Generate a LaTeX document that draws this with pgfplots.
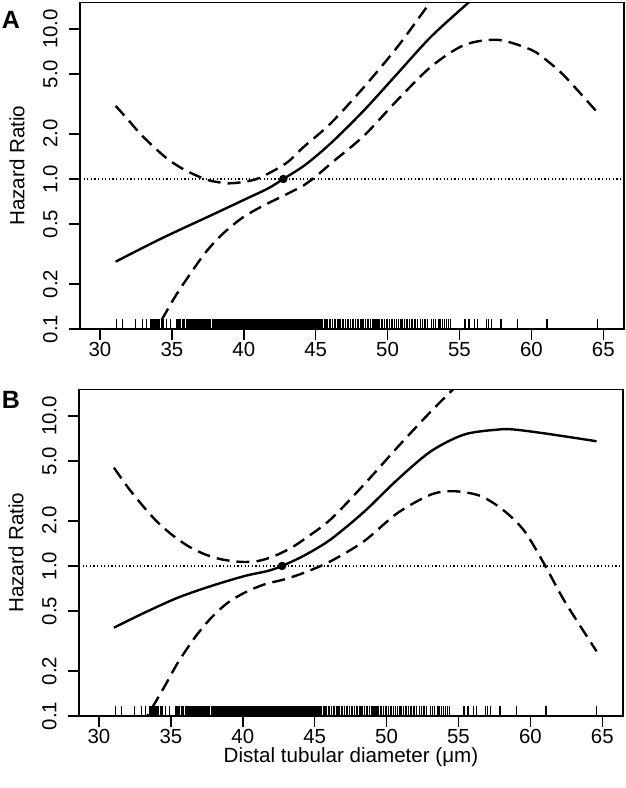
\documentclass[border=0pt]{standalone}
\usepackage{fontspec}
\setmainfont{Liberation Sans}
\usepackage{pgfplots}
\usepackage{pgfplotstable}
\pgfplotsset{compat=1.18}

\pgfplotstableread{
x y
31.13 0.108
31.54 0.108
32.45 0.108
32.93 0.108
33.22 0.108
33.53 0.108
33.62 0.108
33.70 0.108
33.78 0.108
33.85 0.108
33.93 0.108
34.00 0.108
34.08 0.108
34.15 0.108
34.25 0.108
34.38 0.108
34.62 0.108
34.91 0.108
35.35 0.108
35.45 0.108
35.55 0.108
35.62 0.108
35.72 0.108
35.80 0.108
35.90 0.108
36.00 0.108
36.08 0.108
36.15 0.108
36.25 0.108
36.32 0.108
36.40 0.108
36.50 0.108
36.60 0.108
36.68 0.108
36.75 0.108
36.85 0.108
36.95 0.108
37.05 0.108
37.12 0.108
37.20 0.108
37.30 0.108
37.38 0.108
37.45 0.108
37.55 0.108
37.62 0.108
37.70 0.108
37.80 0.108
37.88 0.108
37.95 0.108
38.05 0.108
38.12 0.108
38.20 0.108
38.28 0.108
38.35 0.108
38.42 0.108
38.50 0.108
38.58 0.108
38.66 0.108
38.74 0.108
38.82 0.108
38.90 0.108
38.98 0.108
39.06 0.108
39.14 0.108
39.22 0.108
39.30 0.108
39.38 0.108
39.46 0.108
39.54 0.108
39.62 0.108
39.70 0.108
39.78 0.108
39.86 0.108
39.94 0.108
40.02 0.108
40.10 0.108
40.18 0.108
40.26 0.108
40.34 0.108
40.42 0.108
40.50 0.108
40.58 0.108
40.66 0.108
40.74 0.108
40.82 0.108
40.90 0.108
40.98 0.108
41.06 0.108
41.14 0.108
41.22 0.108
41.30 0.108
41.38 0.108
41.46 0.108
41.54 0.108
41.62 0.108
41.70 0.108
41.78 0.108
41.86 0.108
41.94 0.108
42.02 0.108
42.10 0.108
42.18 0.108
42.26 0.108
42.34 0.108
42.42 0.108
42.50 0.108
42.58 0.108
42.66 0.108
42.74 0.108
42.82 0.108
42.90 0.108
42.98 0.108
43.06 0.108
43.14 0.108
43.22 0.108
43.30 0.108
43.38 0.108
43.46 0.108
43.54 0.108
43.62 0.108
43.70 0.108
43.78 0.108
43.86 0.108
43.94 0.108
44.02 0.108
44.10 0.108
44.18 0.108
44.26 0.108
44.34 0.108
44.42 0.108
44.50 0.108
44.58 0.108
44.66 0.108
44.74 0.108
44.82 0.108
44.90 0.108
44.98 0.108
45.06 0.108
45.14 0.108
45.22 0.108
45.30 0.108
45.38 0.108
45.46 0.108
45.60 0.108
45.72 0.108
45.80 0.108
45.95 0.108
46.05 0.108
46.15 0.108
46.30 0.108
46.38 0.108
46.50 0.108
46.62 0.108
46.70 0.108
46.85 0.108
46.95 0.108
47.05 0.108
47.20 0.108
47.30 0.108
47.40 0.108
47.55 0.108
47.65 0.108
47.75 0.108
47.90 0.108
48.00 0.108
48.10 0.108
48.22 0.108
48.35 0.108
48.45 0.108
48.60 0.108
48.70 0.108
48.80 0.108
48.95 0.108
49.05 0.108
49.20 0.108
49.30 0.108
49.40 0.108
49.55 0.108
49.65 0.108
49.80 0.108
49.90 0.108
50.00 0.108
50.12 0.108
50.25 0.108
50.35 0.108
50.50 0.108
50.60 0.108
50.75 0.108
50.90 0.108
51.00 0.108
51.15 0.108
51.30 0.108
51.40 0.108
51.55 0.108
51.70 0.108
51.85 0.108
51.95 0.108
52.10 0.108
52.30 0.108
52.45 0.108
52.60 0.108
52.80 0.108
53.05 0.108
53.20 0.108
53.35 0.108
53.55 0.108
53.65 0.108
53.80 0.108
53.95 0.108
54.10 0.108
54.25 0.108
54.40 0.108
55.38 0.108
55.66 0.108
56.03 0.108
56.27 0.108
56.87 0.108
56.99 0.108
57.23 0.108
57.88 0.108
59.04 0.108
61.08 0.108
64.62 0.108
}\rugdata

\pgfplotsset{
  hrstyle/.style={
    scale only axis, width=272pt, height=163.25pt,
    xmin=28.61, xmax=66.44, ymin=0.1, ymax=15,
    xtick={30,35,40,45,50,55,60,65},
    ytick={0.1,0.2,0.5,1,2,5,10},
    yticklabels={0.1,0.2,0.5,1.0,2.0,5.0,10.0},
    yminorticks=false,
    tick align=outside, major tick length=5.5pt,
    xtick pos=lower, ytick pos=left,
    axis line style={line width=0.75pt},
    every tick/.style={line width=0.75pt, black},
    tick label style={font=\fontsize{10.2}{12}\selectfont},
    xticklabel style={inner sep=0pt, anchor=north, yshift=-1pt},
    yticklabel style={rotate=90, anchor=south, inner sep=0pt, yshift=5.5pt},
    label style={font=\fontsize{10.3}{12}\selectfont},
    ylabel={Hazard Ratio},
    ylabel style={at={(axis description cs:0,0.5)}, anchor=center, yshift=31.5pt},
  },
  solidc/.style={line width=1.2pt, black, smooth},
  dashc/.style={line width=1.2pt, black, smooth, dash pattern=on 6.5pt off 3.5pt},
  refl/.style={line width=0.55pt, black, dash pattern=on 0.6pt off 1.2pt},
  rugst/.style={only marks, mark=|, mark size=2.5pt, mark options={line width=0.6pt, black}},
}

\begin{document}
\begin{tikzpicture}
% Panel A
\begin{axis}[ymode=log, hrstyle, /pgf/number format/assume math mode=true, at={(0,0)}, anchor=south west]
\addplot[refl] coordinates {(28.61,1) (66.44,1)};
\addplot[rugst] table[x=x, y=y] {\rugdata};
\addplot[solidc] coordinates {
(31.09,0.281) (34.29,0.402) (37.77,0.575) (40.08,0.731) (41.71,0.867) (42.75,1.0) (44.26,1.239)
(46.05,1.73) (48.38,2.88) (50.70,5.06) (53.03,8.89) (55.70,15.2) (57.0,19.5)};
\addplot[dashc] coordinates {
(31.09,3.07) (31.97,2.47) (32.78,2.01) (33.71,1.644) (34.64,1.374) (35.56,1.197) (36.61,1.064)
(37.65,0.975) (38.92,0.935) (40.08,0.959) (41.01,1.009) (42.17,1.148) (43.10,1.306) (44.14,1.626)
(46.05,2.35) (48.38,4.12) (50.70,7.62) (52.91,14.8) (54.0,20.4)};
\addplot[dashc] coordinates {
(33.6,0.088) (34.29,0.115) (35.22,0.164) (36.14,0.223) (37.30,0.320) (38.46,0.424) (39.85,0.547)
(41.24,0.655) (42.63,0.762) (44.14,0.902) (44.8,1.0) (46.22,1.306) (48.38,1.95) (50.70,3.37)
(53.03,5.61) (55.35,7.82) (57.68,8.45) (60.01,7.24) (61.17,6.05) (62.34,4.81) (64.54,2.81)};
\addplot[only marks, mark=*, mark size=1.9pt, black] coordinates {(42.75,1)};
\end{axis}
\node[font=\fontsize{12.5}{14}\selectfont\bfseries] at (-34.5pt,154.5pt) {A};
% Panel B
\begin{axis}[ymode=log, hrstyle, /pgf/number format/assume math mode=true, at={(-0.5pt,-193.5pt)}, anchor=south west,
  xlabel={Distal tubular diameter (μm)},
  xlabel style={at={(axis description cs:0.5,0)}, anchor=center, yshift=-20.5pt}]
\addplot[refl] coordinates {(28.61,1) (66.44,1)};
\addplot[rugst] table[x=x, y=y] {\rugdata};
\addplot[solidc] coordinates {
(31.04,0.388) (33.18,0.489) (35.49,0.615) (37.82,0.736) (40.13,0.857) (41.75,0.927) (42.73,1.0)
(44.30,1.178) (46.1,1.50) (48.42,2.29) (50.75,3.76) (53.08,5.81) (55.4,7.52) (57.75,8.11)
(58.9,8.11) (61.23,7.59) (64.6,6.78)};
\addplot[dashc] coordinates {
(31.04,4.52) (32.02,3.33) (32.95,2.58) (33.99,1.995) (35.03,1.626) (36.19,1.358) (37.35,1.197)
(38.51,1.107) (39.90,1.064) (41.06,1.079) (42.22,1.167) (43.38,1.324) (44.30,1.514) (46.1,2.04)
(48.42,3.48) (50.75,6.17) (53.08,10.7) (55.5,18.2)};
\addplot[dashc] coordinates {
(33.0,0.0865) (33.64,0.111) (34.57,0.158) (35.49,0.227) (36.66,0.333) (37.82,0.453) (38.97,0.570)
(40.13,0.664) (41.52,0.755) (42.91,0.815) (44.30,0.904) (46.1,1.074) (48.42,1.459) (50.75,2.25)
(53.08,2.99) (54.7,3.15) (56.56,2.92) (58.2,2.32) (59.6,1.70) (60.99,1.02) (62.38,0.582) (64.6,0.270)};
\addplot[only marks, mark=*, mark size=1.9pt, black] coordinates {(42.73,1)};
\end{axis}
\node[font=\fontsize{12.5}{14}\selectfont\bfseries] at (-34.5pt,-35.5pt) {B};
\pgfresetboundingbox
\path[use as bounding box] (-40pt,-229.5pt) rectangle (273pt,164.5pt);
\end{tikzpicture}
\end{document}
